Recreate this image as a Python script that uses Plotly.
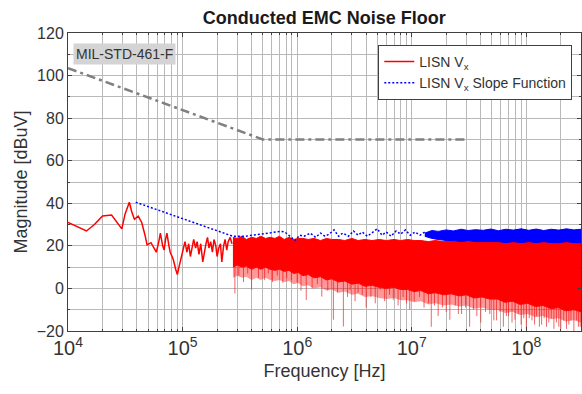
import plotly.graph_objects as go

# ---- MIL-STD-461F CE102 limit line ----
mil_freq = [1e4, 5e5, 3e7]
mil_db = [103.5, 70, 70]

# ---- LISN Vx: low-frequency trace ----
red_freq = [1.0e4, 1.2e4, 1.45e4, 1.7e4, 2.0e4, 2.4e4, 2.7e4, 2.95e4, 3.15e4, 3.43e4,
            3.6e4, 3.8e4, 4.1e4, 4.4e4, 4.7e4, 4.9e4, 5.3e4, 5.6e4, 5.9e4, 6.2e4,
            6.4e4, 6.7e4, 6.9e4, 7.1e4, 7.3e4, 7.6e4, 7.8e4, 8.1e4, 8.3e4, 8.7e4,
            9.0e4, 9.3e4, 9.6e4, 1.0e5, 1.05e5, 1.09e5, 1.13e5, 1.17e5, 1.21e5, 1.25e5,
            1.3e5, 1.34e5, 1.39e5, 1.44e5, 1.5e5, 1.55e5, 1.6e5, 1.65e5, 1.7e5, 1.76e5,
            1.82e5, 1.88e5, 1.95e5, 2.0e5, 2.07e5, 2.14e5, 2.2e5, 2.28e5, 2.35e5, 2.43e5,
            2.5e5, 2.6e5, 2.7e5]
red_db = [31, 29, 27, 30, 34, 34.5, 31, 28, 35, 40.5,
          36, 32.5, 34, 31, 25, 20.5, 21.5, 19.5, 17, 22,
          26, 20, 18, 23, 26, 20, 17, 15, 13.5, 9,
          6.5, 10, 13.5, 18, 22, 17, 21, 15, 20, 23,
          19, 22, 16, 21, 12.5, 18, 21, 24, 19, 22,
          17, 23, 20, 15, 19, 21, 12.5, 20, 23, 18,
          22, 24, 21]

# ---- LISN Vx: dense high-frequency content ----
band_freq = [2.75e5, 3.0e5, 3.3e5, 3.6e5, 4.0e5, 4.4e5, 4.8e5, 5.3e5, 5.8e5, 6.4e5,
             7.0e5, 7.7e5, 8.5e5, 9.3e5, 1.02e6, 1.12e6, 1.25e6, 1.4e6, 1.6e6, 1.8e6,
             2.0e6, 2.3e6, 2.6e6, 3.0e6, 3.4e6, 3.9e6, 4.5e6, 5.2e6, 6.0e6, 7.0e6,
             8.0e6, 9.2e6, 1.05e7, 1.2e7, 1.4e7, 1.6e7, 1.9e7, 2.2e7, 2.6e7, 3.0e7,
             3.5e7, 4.1e7, 4.8e7, 5.6e7, 6.5e7, 7.6e7, 8.8e7, 1.03e8, 1.2e8, 1.4e8,
             1.65e8, 1.9e8, 2.2e8, 2.6e8, 3.0e8]
# upper edge of the dense trace
band_hi = [24, 23.5, 24.5, 23, 24, 23.5, 24.5, 23.5, 24, 23.5,
           24.5, 23, 24, 23, 23.5, 23.5, 23, 23.5, 22.5, 23.5,
           23, 23, 22.5, 23.5, 22.5, 23, 22.5, 23, 22.5, 23,
           22.5, 23, 22.5, 22.5, 22, 22.5, 22, 22.5, 22, 22.5,
           22, 22.5, 22, 22.5, 22, 22.5, 22, 22.5, 22, 22.5,
           22, 22.5, 22, 22.5, 22]
# lower edge of the solid core
band_lo = [10, 11, 10, 10.5, 9, 10, 9, 10, 9, 8.5,
           9, 8, 8.5, 7, 7.5, 6, 6.5, 5, 5.5, 4,
           4.5, 3, 3.5, 2, 2.5, 1, 1.5, 0.5, 0, 0.5,
           -0.5, -0.5, -1.5, -1, -2.5, -2, -3, -2.5, -3.5, -3,
           -4.5, -4, -5, -5, -6.5, -6, -7.5, -7, -8.5, -8,
           -9.5, -9, -10.5, -10, -11]
# lower edge of the sparser fringe below the core
fringe_lo = [5, 6, 5, 5.5, 4, 5, 4, 5, 4, 3.5,
             4, 3, 3.5, 2, 2.5, 1, 1.5, 0, 0.5, -1,
             -0.5, -2, -1.5, -3, -2.5, -4, -3.5, -4.5, -5, -4.5,
             -5.5, -5.5, -6.5, -6, -7.5, -7, -8, -7.5, -8.5, -8,
             -9.5, -9, -10, -10, -11.5, -11, -12.5, -12, -13.5, -13,
             -14.5, -14, -15.5, -15, -16]

# deep notches reaching below the dense band
dip_freq = [2.86e5, 3.1e5, 3.4e5, 3.7e5, 4.0e5, 4.6e5, 5.2e5, 5.6e5, 6.1e5, 6.7e5,
            7.5e5, 8.1e5, 8.9e5, 1.0e6, 1.08e6, 1.2e6, 1.35e6, 1.5e6, 1.64e6, 1.85e6,
            2.07e6, 2.25e6, 2.53e6, 2.75e6, 2.9e6, 3.2e6, 3.4e6, 3.7e6, 4.0e6, 4.4e6,
            4.8e6, 5.3e6, 5.8e6, 6.4e6, 6.9e6, 7.6e6, 8.4e6, 9.0e6, 9.6e6, 1.05e7,
            1.17e7, 1.28e7, 1.4e7, 1.48e7, 1.58e7, 1.7e7, 1.85e7, 2.0e7, 2.15e7, 2.4e7,
            2.55e7, 2.72e7, 2.95e7, 3.2e7, 3.45e7, 3.7e7, 4.0e7, 4.4e7, 4.8e7, 5.2e7,
            5.5e7, 5.9e7, 6.3e7, 6.7e7, 7.0e7, 7.5e7, 7.95e7, 8.5e7, 9.0e7, 9.5e7,
            1.0e8, 1.06e8, 1.12e8, 1.18e8, 1.23e8, 1.3e8, 1.36e8, 1.43e8, 1.5e8, 1.57e8,
            1.65e8, 1.74e8, 1.83e8, 1.92e8, 2.0e8, 2.12e8, 2.24e8, 2.35e8, 2.45e8, 2.6e8,
            2.75e8, 2.85e8, 2.95e8]
dip_db = [-2.4, 6, 3, 7, -0.6, 5, 4, 7, 3, 6,
          2.6, 5, 4, 3, -1, -5.4, 0, 2, -3.8, -1,
          -14.7, -2, -17.9, -4, -0.6, -6, -2, -3, -9, -4,
          -7, -0.6, -6, -3, -5.4, -8, -4, -7, -10, -6,
          -4, -9, -7, -18, -8, -13, -9, -11, -14.7, -8,
          -12, -12, -9, -18, -10, -13, -16, -11, -12, -15,
          -15, -11, -18, -13, -13, -16, -14.7, -12, -17, -14,
          -19, -14, -15, -17, -13, -18, -17, -14, -18, -16,
          -14, -19, -16, -18, -19, -15, -19, -17, -15, -20,
          -15, -18, -18]

# ---- LISN Vx slope function ----
slope_freq = [3.9e4, 2.75e5, 3.5e5, 5.0e5, 7.2e5, 7.8e5, 9.0e5, 9.6e5, 1.05e6, 1.15e6,
              1.3e6, 1.45e6, 1.6e6, 1.75e6, 1.9e6, 2.1e6, 2.3e6, 2.5e6, 2.8e6, 3.1e6,
              3.4e6, 3.7e6, 4.1e6, 4.5e6, 5.0e6, 5.5e6, 6.0e6, 6.6e6, 7.3e6, 8.0e6,
              8.8e6, 9.7e6, 1.07e7, 1.18e7, 1.3e7]
slope_db = [40.5, 24.5, 24.5, 25.5, 26.8, 26.5, 23.5, 22.5, 25, 24.5,
            26, 24, 26, 24.5, 25.5, 27.5, 24.5, 26, 24.5, 27,
            25, 26.5, 24.5, 26, 28, 25, 26.5, 24.5, 27, 25.5,
            27.5, 25, 26.5, 25, 26.5]

slope_band_freq = [1.3e7, 1.5e7, 1.7e7, 2.0e7, 2.3e7, 2.7e7, 3.1e7, 3.6e7, 4.2e7, 4.9e7,
                   5.7e7, 6.6e7, 7.7e7, 9.0e7, 1.05e8, 1.22e8, 1.42e8, 1.65e8, 1.92e8, 2.24e8,
                   2.6e8, 3.0e8]
slope_band_hi = [26, 27.2, 26.8, 27.5, 27, 27.8, 27.2, 27.6, 27.3, 27.9,
                 27.1, 27.8, 27.4, 28, 27.3, 27.9, 27.2, 27.8, 27.4, 28,
                 27.5, 27.8]
slope_band_lo = [24.5, 23.5, 23, 22.5, 22.5, 22, 22.5, 22, 22, 22,
                 22, 21.5, 22, 21.5, 22, 21.5, 22, 21.5, 21.5, 22,
                 21.5, 21.5]

RED = "#ff0000"
BLUE = "#0000ff"
GRID = "#b9b9b9"
TEXT = "#333333"
DIP_FROM = 12

fig = go.Figure()

# limit line
fig.add_trace(go.Scatter(
    x=mil_freq, y=mil_db, mode="lines", showlegend=False, hoverinfo="skip",
    line=dict(color="#808080", width=2.5, dash="9px,4px,3px,4px")))

# notches as thin vertical strokes
dx, dy = [], []
for f, d in zip(dip_freq, dip_db):
    dx += [f, f, None]
    dy += [DIP_FROM, d, None]
fig.add_trace(go.Scatter(
    x=dx, y=dy, mode="lines", showlegend=False, hoverinfo="skip",
    line=dict(color="rgba(235,50,50,0.75)", width=1)))

# sparse fringe under the dense core
fig.add_trace(go.Scatter(
    x=band_freq + band_freq[::-1], y=band_lo + fringe_lo[::-1],
    mode="lines", fill="toself", fillcolor="rgba(255,0,0,0.4)", showlegend=False,
    hoverinfo="skip", line=dict(width=0)))

# dense core of the LISN signal
fig.add_trace(go.Scatter(
    x=band_freq + band_freq[::-1], y=band_hi + band_lo[::-1],
    mode="lines", fill="toself", fillcolor=RED, showlegend=False, hoverinfo="skip",
    line=dict(color=RED, width=1)))

# low-frequency LISN trace (legend entry)
fig.add_trace(go.Scatter(
    x=red_freq, y=red_db, mode="lines", name="LISN V<sub>x</sub>",
    legendrank=1, line=dict(color=RED, width=1.5)))

# dense part of the slope function
fig.add_trace(go.Scatter(
    x=slope_band_freq + slope_band_freq[::-1], y=slope_band_hi + slope_band_lo[::-1],
    mode="lines", fill="toself", fillcolor=BLUE, showlegend=False, hoverinfo="skip",
    line=dict(color=BLUE, width=1)))

# slope function line (legend entry)
fig.add_trace(go.Scatter(
    x=slope_freq, y=slope_db, mode="lines", name="LISN V<sub>x</sub> Slope Function",
    legendrank=2, line=dict(color=BLUE, width=1.5, dash="2px,2px")))

axis_common = dict(
    showline=True, linecolor="#404040", linewidth=1, mirror="ticks",
    ticks="inside", ticklen=4, tickcolor="#404040",
    showgrid=True, gridcolor=GRID, gridwidth=1, zeroline=False,
    tickfont=dict(size=16, color=TEXT),
)

fig.update_xaxes(
    type="log", range=[4, 8.477], dtick=1, exponentformat="power", showexponent="all",
    minor=dict(dtick="D1", showgrid=True, gridcolor=GRID, ticks="inside", ticklen=2,
               tickcolor="#404040"),
    title=dict(text="Frequency [Hz]", font=dict(size=18, color=TEXT), standoff=6),
    **axis_common)
fig.update_yaxes(
    range=[-20, 120], dtick=20,
    minor=dict(dtick=10, showgrid=True, gridcolor=GRID, ticks="inside", ticklen=2,
               tickcolor="#404040"),
    title=dict(text="Magnitude [dBuV]", font=dict(size=18, color=TEXT), standoff=4),
    **axis_common)

fig.add_annotation(
    xref="paper", yref="paper", x=0.009, y=0.968, xanchor="left", yanchor="top",
    text="MIL-STD-461-F", showarrow=False,
    font=dict(size=14, color=TEXT), bgcolor="#d4d4d4", borderpad=2)

fig.update_layout(
    width=582, height=394,
    margin=dict(l=68, r=1, t=33, b=63),
    paper_bgcolor="white", plot_bgcolor="white",
    font=dict(family="Liberation Sans, Arial, sans-serif", color=TEXT),
    title=dict(text="<b>Conducted EMC Noise Floor</b>", x=0.557, xanchor="center",
               y=0.954, yanchor="middle", font=dict(size=18, color="#1a1a1a")),
    legend=dict(x=0.983, y=0.96, xanchor="right", yanchor="top",
                bgcolor="white", bordercolor="#404040", borderwidth=1,
                font=dict(size=14, color=TEXT), itemwidth=30,
                tracegroupgap=0),
)

fig.write_html("out.html")
